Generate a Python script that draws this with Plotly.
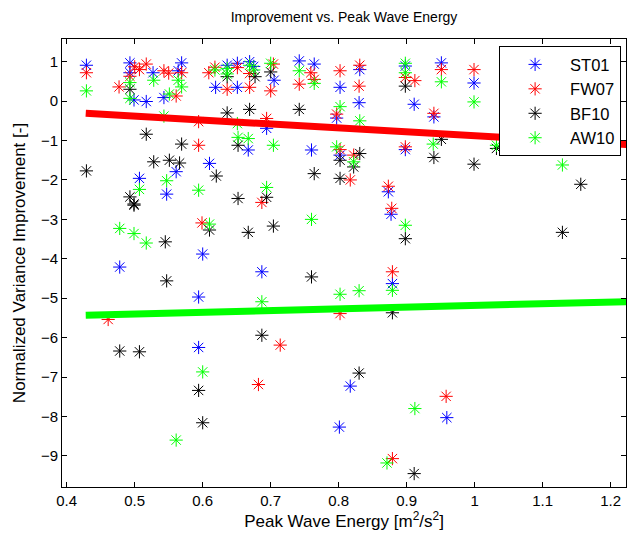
import plotly.graph_objects as go

# ---------------- data ----------------
st01_x = [0.429, 0.493, 0.493, 0.499, 0.517, 0.527, 0.543, 0.569, 0.564, 0.636, 0.651, 0.669,
          0.675, 0.705, 0.619, 0.651, 0.742, 0.764, 0.802, 0.797, 0.831, 0.830, 0.898, 0.911,
          0.940, 0.951, 0.999, 0.898, 0.802, 0.873, 0.877, 0.879, 0.478, 0.600, 0.687, 0.594,
          0.594, 0.801, 0.817, 0.959, 0.561, 0.610, 0.507, 0.547, 0.667, 0.760, 0.694]
st01_y = [0.91, 0.97, 0.72, 0.03, -0.01, 0.72, 0.09, 0.97, 0.77, 0.91, 0.96, 1.00,
          0.88, 0.53, 0.35, 0.35, 1.02, 0.94, 0.35, -0.43, 0.80, -0.04, 0.89, -0.08,
          -0.40, 0.97, 0.46, -1.23, -1.37, -2.30, -2.87, -4.63, -4.21, -3.88, -4.33, -4.97,
          -6.25, -8.27, -7.23, -8.03, -1.79, -1.58, -1.96, -2.36, -1.24, -1.24, -0.69]

fw07_x = [0.429, 0.500, 0.507, 0.517, 0.493, 0.477, 0.543, 0.550, 0.561, 0.569, 0.609, 0.618,
          0.651, 0.669, 0.704, 0.636, 0.669, 0.700, 0.759, 0.764, 0.742, 0.802, 0.797, 0.694,
          0.831, 0.830, 0.898, 0.912, 0.940, 0.951, 0.999, 0.898, 0.802, 0.822, 0.817, 0.873,
          0.878, 0.879, 0.802, 0.687, 0.599, 0.461, 0.714, 0.682, 0.958, 0.879, 0.594, 0.594]
fw07_y = [0.72, 0.87, 0.80, 0.94, 0.63, 0.36, 0.77, 0.71, 0.13, 0.72, 0.72, 0.86,
          0.85, 0.70, 0.94, 0.30, 0.35, 0.26, 0.72, 0.55, 0.43, 0.77, -0.33, -0.44,
          0.91, 0.38, 0.60, 0.52, -0.31, 0.80, 0.80, -1.16, -1.23, -1.37, -2.00, -2.16,
          -2.72, -4.33, -5.39, -2.57, -3.09, -5.54, -6.19, -7.19, -7.49, -9.07, -1.12, -0.52]

bf10_x = [0.493, 0.636, 0.677, 0.700, 0.898, 0.636, 0.669, 0.742, 0.951, 0.940, 0.999, 1.156,
          1.032, 0.802, 0.822, 0.831, 0.802, 0.898, 1.129, 0.879, 0.830, 0.499, 0.545, 0.610,
          0.667, 0.704, 0.760, 0.547, 0.478, 0.507, 0.687, 0.594, 0.600, 0.911, 0.517, 0.569,
          0.429, 0.528, 0.551, 0.566, 0.493, 0.499, 0.652, 0.620, 0.764, 0.694, 0.652]
bf10_y = [0.30, 0.62, 0.62, 0.74, 0.38, -0.30, -0.21, -0.21, -0.97, -1.43, -1.60, -2.11,
          -1.20, -1.50, -1.67, -1.33, -1.96, -3.49, -3.33, -5.37, -6.90, -2.61, -3.57, -3.27,
          -3.33, -3.17, -4.46, -4.56, -6.34, -6.36, -5.94, -7.34, -8.16, -9.45, -0.84, -1.09,
          -1.77, -1.54, -1.50, -1.57, -2.43, -2.64, -1.12, -1.90, -1.84, -2.44, -2.47]

aw10_x = [0.429, 0.493, 0.493, 0.528, 0.551, 0.564, 0.569, 0.618, 0.636, 0.636, 0.669, 0.675,
          0.700, 0.742, 0.764, 0.802, 0.831, 0.898, 0.898, 0.951, 0.999, 0.939, 1.129, 1.032,
          0.797, 0.822, 0.898, 0.879, 0.802, 0.830, 0.478, 0.499, 0.517, 0.610, 0.760, 0.687,
          0.600, 0.561, 0.912, 0.871, 0.543, 0.547, 0.507, 0.594, 0.652, 0.667, 0.704, 0.694,
          0.651]
aw10_y = [0.26, 0.47, 0.07, 0.53, 0.18, 0.53, 0.36, 0.79, 0.83, 0.69, 0.91, 0.79,
          0.96, 0.77, 0.45, -0.14, -0.50, 0.96, 0.72, 0.49, -0.02, -1.09, -1.62, -1.12,
          -1.16, -1.54, -3.15, -4.80, -4.90, -4.81, -3.23, -3.36, -3.60, -3.12, -3.00, -5.09,
          -6.87, -8.60, -7.80, -9.18, -0.38, -2.02, -2.24, -2.26, -0.92, -0.95, -1.12, -2.19,
          -0.57]

# fitted trend lines (intercept, slope) and x-extent
fit_x = [0.428, 1.26]
red_fit = (0.116, -0.995)
green_fit = (-5.614, 0.43)

series_names = ["ST01", "FW07", "BF10", "AW10"]
series_colors = ["#0000ff", "#ff0000", "#000000", "#00ff00"]
series_x = [st01_x, fw07_x, bf10_x, aw10_x]
series_y = [st01_y, fw07_y, bf10_y, aw10_y]

x_ticks = [0.4, 0.5, 0.6, 0.7, 0.8, 0.9, 1.0, 1.1, 1.2]
y_ticks = [1, 0, -1, -2, -3, -4, -5, -6, -7, -8, -9]

FONT = "Liberation Sans, Arial, Helvetica, sans-serif"

fig = go.Figure()
for name, col, xs, ys in zip(series_names, series_colors, series_x, series_y):
    fig.add_trace(go.Scatter(
        x=xs, y=ys, mode="markers", name=name, legendgroup=name,
        marker=dict(symbol="asterisk-open", size=11, color=col,
                    line=dict(color=col, width=1)),
    ))

for (b, m), col in zip([red_fit, green_fit], ["#ff0000", "#00ff00"]):
    fig.add_trace(go.Scatter(
        x=fit_x, y=[b + m * v for v in fit_x], mode="lines",
        line=dict(color=col, width=7), showlegend=False, hoverinfo="skip",
    ))

fig.update_layout(
    width=627, height=540,
    margin=dict(l=62, r=1, t=39, b=53),
    paper_bgcolor="white", plot_bgcolor="white",
    font=dict(family=FONT, size=15, color="black"),
    title=dict(text="Improvement vs. Peak Wave Energy", x=0.5, xanchor="center",
               xref="paper",
               y=1 - 17 / 540, yanchor="middle", yref="container",
               font=dict(size=14, family=FONT, color="black")),
    legend=dict(x=0.775, y=0.984, xanchor="left", yanchor="top",
                bgcolor="white", bordercolor="black", borderwidth=1,
                font=dict(size=16.5, family=FONT), traceorder="grouped",
                tracegroupgap=0, itemwidth=60),
    showlegend=True,
)
fig.update_xaxes(range=[0.3931, 1.2225], tickvals=x_ticks,
                 ticktext=[("%g" % v) for v in x_ticks],
                 ticks="inside", ticklen=5, tickcolor="black",
                 showline=True, linecolor="black", linewidth=1, mirror="ticks",
                 showgrid=False, zeroline=False,
                 tickfont=dict(size=15),
                 title=dict(text="Peak Wave Energy [m<sup>2</sup>/s<sup>2</sup>]",
                            font=dict(size=17), standoff=7))
fig.update_yaxes(range=[-9.79, 1.576], tickvals=y_ticks,
                 ticks="inside", ticklen=5, tickcolor="black",
                 showline=True, linecolor="black", linewidth=1, mirror="ticks",
                 showgrid=False, zeroline=False,
                 tickfont=dict(size=15),
                 title=dict(text="Normalized Variance Improvement [-]",
                            font=dict(size=17), standoff=10))

fig.write_html("out.html")
